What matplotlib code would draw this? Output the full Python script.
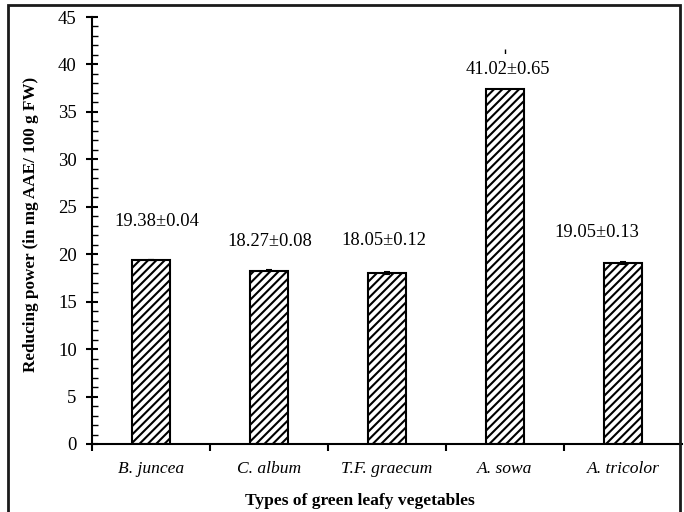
import matplotlib
matplotlib.use("Agg")
import matplotlib.pyplot as plt
from matplotlib.patches import Rectangle
from matplotlib.ticker import MultipleLocator, FixedLocator
import numpy as np

plt.rcParams['font.family'] = ['Liberation Serif', 'DejaVu Serif']
plt.rcParams['hatch.linewidth'] = 1.5

categories = ["B. juncea", "C. album", "T.F. graecum", "A. sowa", "A. tricolor"]
bar_heights = [19.38, 18.27, 18.05, 37.4, 19.05]
means = [19.38, 18.27, 18.05, 41.02, 19.05]
errors = [0.04, 0.08, 0.12, 0.65, 0.13]
labels = ["19.38\u00b10.04", "18.27\u00b10.08", "18.05\u00b10.12", "41.02\u00b10.65", "19.05\u00b10.13"]

# label offsets from bar top (pixels)
label_offsets = [(6, 39), (1, 29), (-3, 32), (3, 20), (-26, 31)]

fig = plt.figure(figsize=(6.84, 5.12), dpi=100)
ax = fig.add_axes([92/684, 68/512, 590/684, 427/512])

x = np.arange(len(categories))
ax.bar(x, bar_heights, width=0.32, color='white', edgecolor='black',
       linewidth=1.5, hatch='////', zorder=2)

# error bars
for i in range(len(categories)):
    cap = 0 if i == 3 else 2.5
    ax.errorbar(x[i], means[i], yerr=errors[i], fmt='none', ecolor='black',
                elinewidth=1, capsize=cap, capthick=1.5, zorder=3)

for i, lab in enumerate(labels):
    dx, dy = label_offsets[i]
    kw = {}
    if i == 3:
        kw['bbox'] = dict(facecolor='white', edgecolor='none', pad=5)
    ax.annotate(lab, xy=(x[i], bar_heights[i]), xytext=(dx, dy),
                textcoords='offset pixels', ha='center', va='center',
                fontsize=13.3, zorder=4, **kw)

ax.set_xlim(-0.5, len(categories) - 0.5)
ax.set_ylim(0, 45)

ax.spines['top'].set_visible(False)
ax.spines['right'].set_visible(False)
ax.spines['left'].set_linewidth(1.5)
ax.spines['bottom'].set_linewidth(1.5)

ax.yaxis.set_major_locator(MultipleLocator(5))
ax.yaxis.set_minor_locator(MultipleLocator(1))
ax.tick_params(axis='y', which='major', direction='inout', length=8, width=1.5,
               labelsize=13.5, pad=7)
ax.tick_params(axis='y', which='minor', direction='in', length=4, width=1)

ax.xaxis.set_major_locator(FixedLocator(np.arange(-0.5, len(categories) - 1, 1.0)))
ax.xaxis.set_minor_locator(FixedLocator(x))
ax.set_xticklabels([], minor=False)
ax.set_xticklabels(categories, minor=True, fontstyle='italic', fontsize=12.6)
ax.tick_params(axis='x', which='major', direction='out', length=5, width=1.5)
ax.tick_params(axis='x', which='minor', length=0, pad=12)

ax.set_xlabel("Types of green leafy vegetables", fontsize=12.5, fontweight='bold')
ax.xaxis.set_label_coords(0.454, -0.115)
ax.set_ylabel("Reducing power (in mg AAE/ 100 g FW)", fontsize=12.3, fontweight='bold')
ax.yaxis.set_label_coords(-0.09, 0.514)

# figure border
fig.add_artist(Rectangle((8/684, -0.02), (680 - 8)/684, 1 - 5/512 + 0.02,
                         transform=fig.transFigure, fill=False,
                         edgecolor='#1a1a1a', linewidth=2, zorder=10))

fig.savefig("out.png", dpi=100)
